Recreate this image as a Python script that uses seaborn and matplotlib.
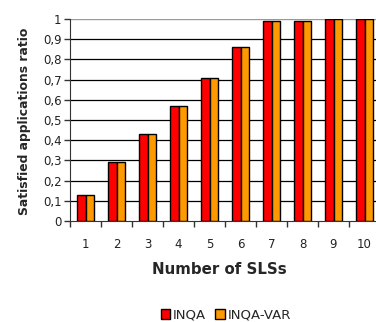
import matplotlib
matplotlib.use("Agg")
import matplotlib.pyplot as plt
import seaborn as sns
import pandas as pd
from matplotlib.ticker import FixedLocator, FuncFormatter

# Data
slss = ["1", "2", "3", "4", "5", "6", "7", "8", "9", "10"]
inqa = [0.13, 0.29, 0.43, 0.57, 0.71, 0.86, 0.99, 0.99, 1.0, 1.0]
inqa_var = [0.13, 0.29, 0.43, 0.57, 0.71, 0.86, 0.99, 0.99, 1.0, 1.0]
series = ["INQA", "INQA-VAR"]
colours = ["#ff0000", "#ff9900"]

df = pd.DataFrame({
    "slss": slss * 2,
    "ratio": inqa + inqa_var,
    "method": [series[0]] * len(slss) + [series[1]] * len(slss),
})

sns.set_style("white")
plt.rcParams["font.family"] = ["DejaVu Sans"]

fig = plt.figure(figsize=(3.76, 3.22), dpi=100)
ax = fig.add_axes([70 / 376, 101 / 322, 310 / 376, 202 / 322])

# Horizontal gridlines
for v in [i / 10 for i in range(1, 10)]:
    ax.axhline(v, color="black", lw=0.9, zorder=0)
ax.axhline(1.0, color="#999999", lw=1.0, zorder=0)

sns.barplot(data=df, x="slss", y="ratio", hue="method", palette=colours,
            width=0.52, edgecolor="black", linewidth=1.0, ax=ax, zorder=2,
            saturation=1)

ax.set_xlim(-0.5, len(slss) - 0.5)
ax.set_ylim(0, 1)
ax.set_yticks([i / 10 for i in range(11)])
ax.yaxis.set_major_formatter(FuncFormatter(
    lambda v, p: "0" if v == 0 else ("1" if v == 1 else f"{v:.1f}".replace(".", ","))))

# Ticks at category boundaries, labels at centers
ax.xaxis.set_minor_locator(FixedLocator([i - 0.5 for i in range(len(slss) + 1)]))
ax.tick_params(axis="x", which="major", length=0, pad=12, labelsize=8.5, colors="#222222")
ax.tick_params(axis="x", which="minor", length=4, width=1, color="#333333", bottom=True)
ax.tick_params(axis="y", length=4, width=1, color="#333333", left=True, labelsize=8.5,
               pad=2, labelcolor="#222222")

for s in ["top", "right"]:
    ax.spines[s].set_visible(False)
ax.spines["left"].set_color("#333333")
ax.spines["bottom"].set_color("#333333")

ax.set_ylabel("Satisfied applications ratio", fontsize=8.9, fontweight="bold")
ax.yaxis.set_label_coords(25 / 376, 1 - 121 / 322, transform=fig.transFigure)
ax.yaxis.label.set_va("center")
ax.set_xlabel("Number of SLSs", fontsize=10.8, fontweight="bold")
ax.xaxis.set_label_coords(219 / 376, 1 - 270 / 322, transform=fig.transFigure)
ax.xaxis.label.set_va("center")

ax.legend(loc="center", bbox_to_anchor=(226 / 376, 1 - 315 / 322),
          bbox_transform=fig.transFigure, ncol=2, frameon=False, fontsize=9.5,
          handlelength=0.75, handleheight=0.75, handletextpad=0.2,
          columnspacing=0.7, borderpad=0)

fig.savefig("out.png", dpi=100)
